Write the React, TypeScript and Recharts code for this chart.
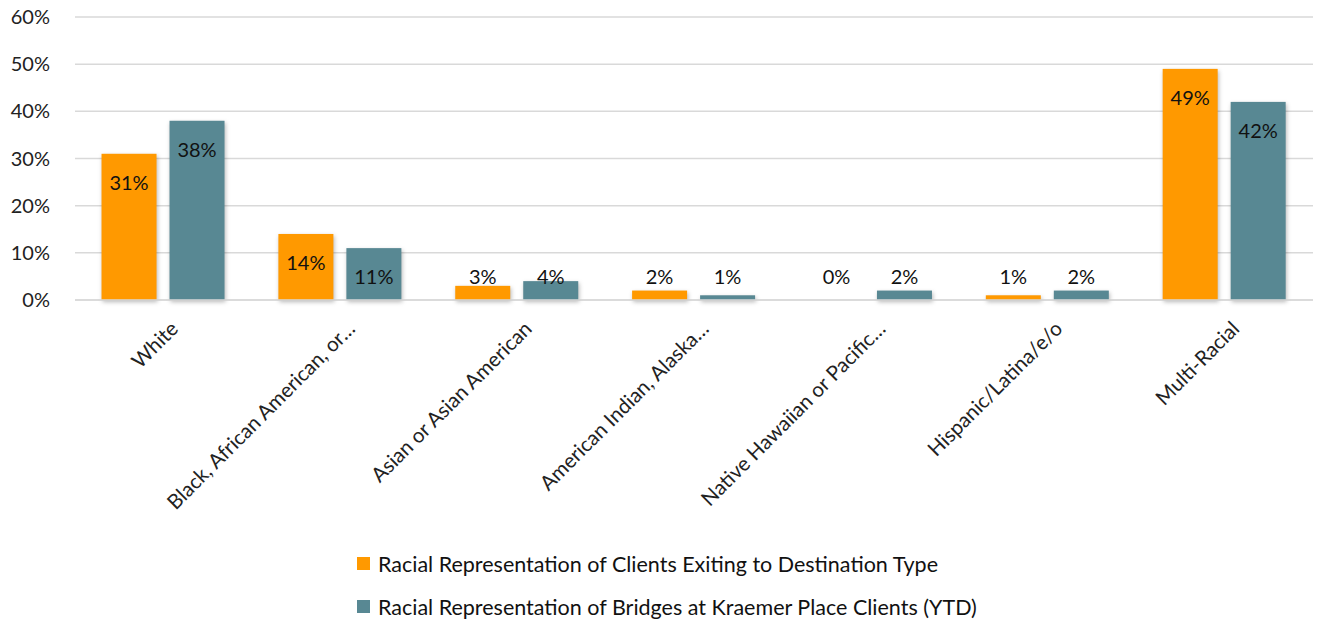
import React from "react";
import { BarChart, Bar, XAxis, YAxis, CartesianGrid, LabelList } from "recharts";

const categories = [
  "White",
  "Black, African American, or…",
  "Asian or Asian American",
  "American Indian, Alaska…",
  "Native Hawaiian or Pacific…",
  "Hispanic/Latina/e/o",
  "Multi-Racial",
];
const exitingValues = [31, 14, 3, 2, 0, 1, 49];
const kraemerValues = [38, 11, 4, 1, 2, 2, 42];
const yTicks = [0, 10, 20, 30, 40, 50, 60];

const seriesNames = [
  "Racial Representation of Clients Exiting to Destination Type",
  "Racial Representation of Bridges at Kraemer Place Clients (YTD)",
];
const ORANGE = "#FF9900";
const TEAL = "#588893";
const FONT = "Lato, 'Open Sans', sans-serif";

const data = categories.map((name, i) => ({
  name,
  exiting: exitingValues[i],
  kraemer: kraemerValues[i],
}));

const ZERO_Y = 300;

// bar with a light shadow like the office chart
const ShadowBar = (props: any) => {
  const { x, y, width, height, fill } = props;
  if (height <= 0) return null;
  return (
    <rect
      x={x}
      y={y}
      width={width}
      height={height}
      fill={fill}
      style={{ filter: "drop-shadow(1px 2px 2px rgba(0,0,0,0.28))" }}
    />
  );
};

// inside-end label, pushed above the bar when the bar is too short
const EndLabel = (props: any) => {
  const { x, y, width, value } = props;
  const cy = Math.min(y + 29, ZERO_Y - 23);
  return (
    <text
      x={x + width / 2}
      y={cy}
      dy="0.35em"
      textAnchor="middle"
      fill="#111"
      fontSize={20}
      fontFamily={FONT}
    >
      {`${value}%`}
    </text>
  );
};

const AngledTick = (props: any) => {
  const { x, y, payload } = props;
  const tx = x + 11;
  const ty = y + 17;
  return (
    <text
      x={tx}
      y={ty}
      dy="0.35em"
      textAnchor="end"
      fill="#222"
      fontSize={20.5}
      fontFamily={FONT}
      transform={`rotate(-45, ${tx}, ${ty})`}
    >
      {payload.value}
    </text>
  );
};

export default function App() {
  return (
    <div style={{ position: "absolute", left: 0, top: 0, width: 1333, height: 624, background: "#fff" }}>
      <BarChart
        width={1333}
        height={624}
        data={data}
        margin={{ top: 17, right: 20, left: 0, bottom: 0 }}
        barCategoryGap="15%"
        barGap={13}
      >
        <CartesianGrid vertical={false} stroke="#d9d9d9" strokeWidth={1.5} />
        <XAxis
          dataKey="name"
          axisLine={{ stroke: "#d9d9d9", strokeWidth: 1.5 }}
          tickLine={false}
          interval={0}
          height={324}
          tick={<AngledTick />}
        />
        <YAxis
          width={75}
          domain={[0, 60]}
          ticks={yTicks}
          axisLine={false}
          tickLine={false}
          tickSize={0}
          tickMargin={25}
          tickFormatter={(v) => `${v}%`}
          tick={{ fill: "#222", fontSize: 20, fontFamily: FONT }}
        />
        <Bar dataKey="exiting" fill={ORANGE} isAnimationActive={false} shape={<ShadowBar />}>
          <LabelList dataKey="exiting" content={<EndLabel />} />
        </Bar>
        <Bar dataKey="kraemer" fill={TEAL} isAnimationActive={false} shape={<ShadowBar />}>
          <LabelList dataKey="kraemer" content={<EndLabel />} />
        </Bar>
      </BarChart>
      <div
        style={{
          position: "absolute",
          left: 357,
          top: 542,
          fontFamily: FONT,
          fontSize: 21.5,
          color: "#111",
        }}
      >
        {seriesNames.map((name, i) => (
          <div key={name} style={{ display: "flex", alignItems: "center", height: 43 }}>
            <span
              style={{
                display: "inline-block",
                width: 13,
                height: 13,
                background: i === 0 ? ORANGE : TEAL,
                marginRight: 8,
              }}
            />
            <span>{name}</span>
          </div>
        ))}
      </div>
    </div>
  );
}
